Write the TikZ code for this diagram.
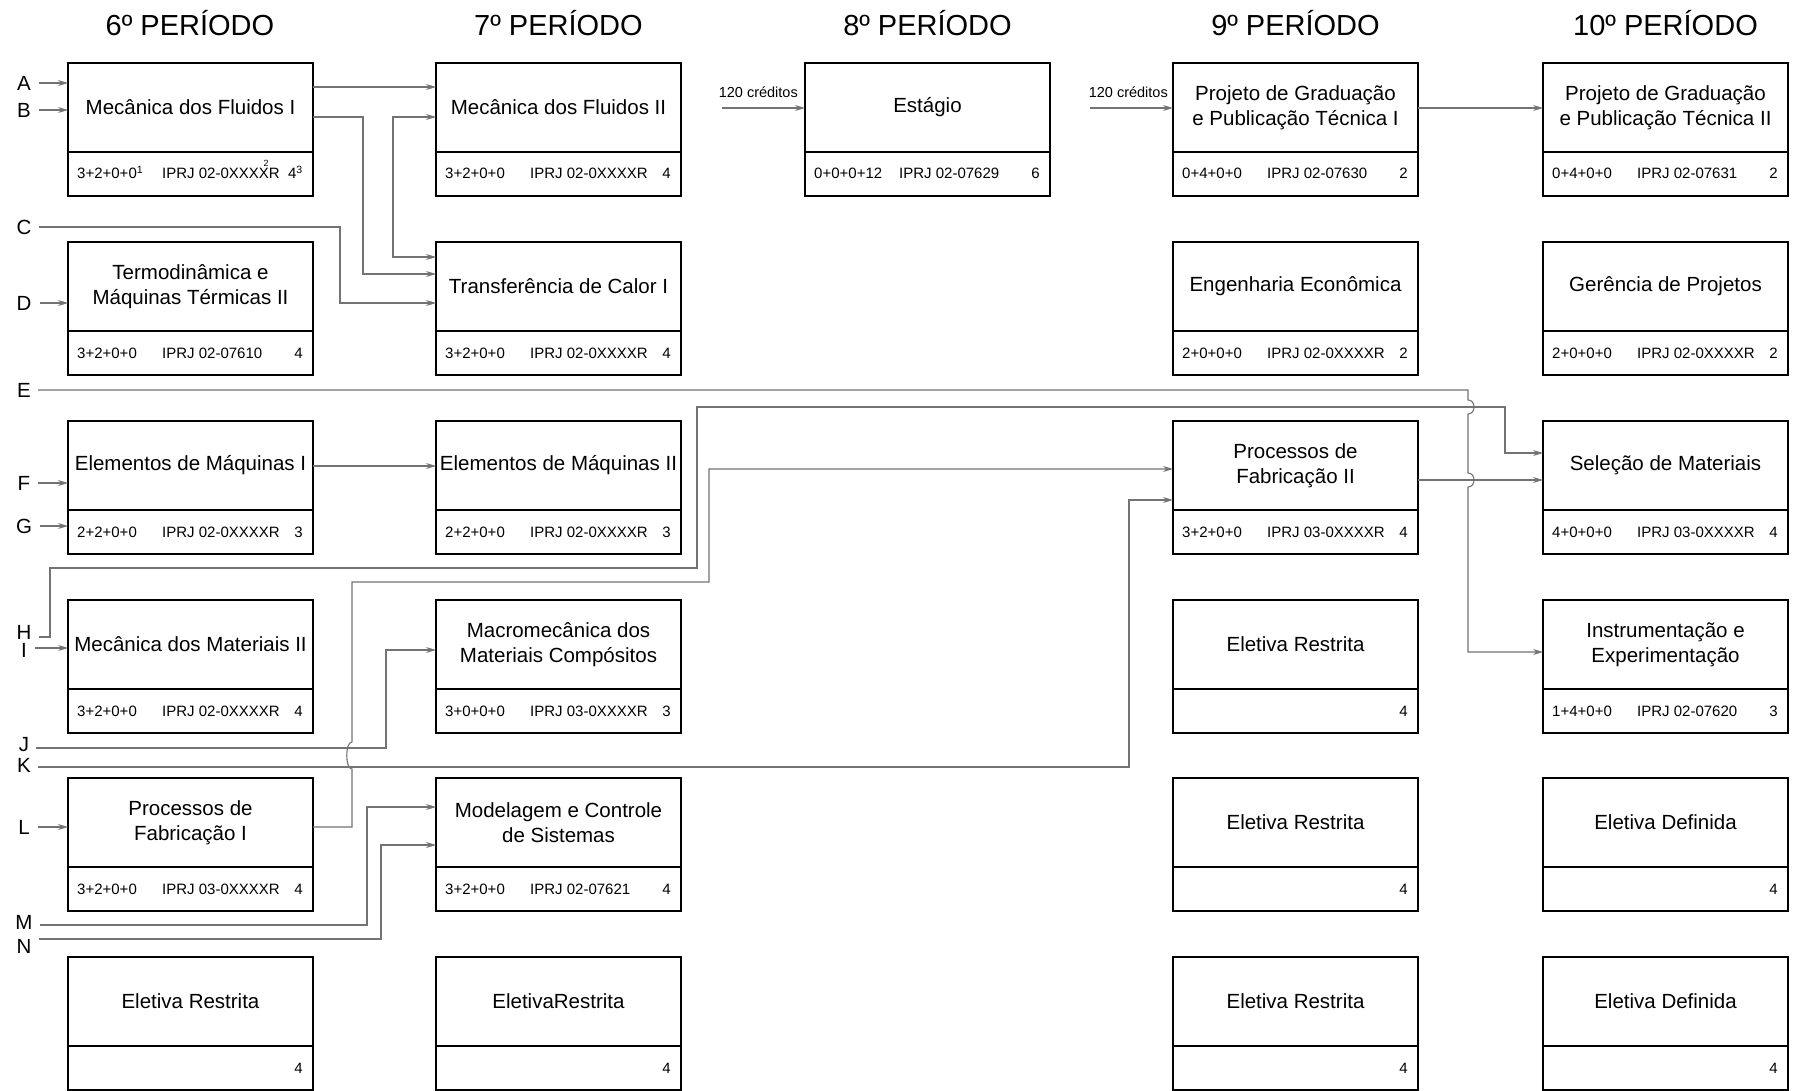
\documentclass[tikz,border=0pt]{standalone}
\usepackage{fontspec}
\setmainfont{Liberation Sans}
\usetikzlibrary{arrows.meta}

\tikzset{
  cbox/.style={draw=black, line width=2.6pt, minimum width=245pt, minimum height=133pt,
               inner sep=0pt, outer sep=0pt, anchor=north west},
  divider/.style={line width=2.6pt},
  ctitle/.style={align=center, inner sep=0pt, font=\fontsize{20.5}{25}\selectfont},
  cinfo/.style={inner sep=0pt, font=\fontsize{15}{18}\selectfont},
  period/.style={inner sep=0pt, anchor=base, font=\fontsize{29}{34}\selectfont},
  letter/.style={inner sep=0pt, font=\fontsize{20.5}{24}\selectfont},
  creditnote/.style={inner sep=0pt, anchor=base east, font=\fontsize{14.5}{17}\selectfont},
  wire/.style={draw=black!55, line width=1.1pt},
  conn/.style={wire, -{Stealth[length=10pt,width=6pt]}},
  coreq/.style={wire, {Stealth[length=10pt,width=6pt]}-{Stealth[length=10pt,width=6pt]}},
}

% course box: name, left x, top y, title, hours, code, credits
\newcommand\coursebox[7]{%
  \node[cbox] (#1) at (#2,#3) {};
  \draw[divider] ([yshift=-89pt]#1.north west) -- ([yshift=-89pt]#1.north east);
  \node[ctitle] (#1-title) at (#2+122.5,#3+44.5) {#4};
  \node[cinfo, anchor=base west] (#1-hours) at (#2+9,#3+116) {#5};
  \node[cinfo, anchor=base west] (#1-code) at (#2+94,#3+116) {#6};
  \node[cinfo, anchor=base east] (#1-cr) at (#2+235,#3+116) {#7};
}
% elective box: name, left x, top y, title, credits
\newcommand\electivebox[5]{%
  \node[cbox] (#1) at (#2,#3) {};
  \draw[divider] ([yshift=-89pt]#1.north west) -- ([yshift=-89pt]#1.north east);
  \node[ctitle] (#1-title) at (#2+122.5,#3+44.5) {#4};
  \node[cinfo, anchor=base east] (#1-cr) at (#2+235,#3+116) {#5};
}

\begin{document}
\begin{tikzpicture}[x=1pt,y=-1pt]
\useasboundingbox (0,0) rectangle (1793,1091);
\fill[white] (0,0) rectangle (1793,1091);

% period headers
\node[period] (p6)  at (190,36)    {6º PERÍODO};
\node[period] (p7)  at (558.5,36)  {7º PERÍODO};
\node[period] (p8)  at (927.5,36)  {8º PERÍODO};
\node[period] (p9)  at (1295.5,36) {9º PERÍODO};
\node[period] (p10) at (1665.5,36) {10º PERÍODO};

% 6th period
\coursebox{mf1}{68}{63}{Mecânica dos Fluidos I}{3+2+0+0\textsuperscript{1}}
  {IPRJ 02-0XXXXR}{4\textsuperscript{3}}
\node[inner sep=0pt, anchor=base, font=\fontsize{9}{9}\selectfont] (mf1-note) at (266,167) {2};
\coursebox{term}{68}{242}{Termodinâmica e\\Máquinas Térmicas II}{3+2+0+0}{IPRJ 02-07610}{4}
\coursebox{el1}{68}{421}{Elementos de Máquinas I}{2+2+0+0}{IPRJ 02-0XXXXR}{3}
\coursebox{mm2}{68}{600}{Mecânica dos Materiais II}{3+2+0+0}{IPRJ 02-0XXXXR}{4}
\coursebox{pf1}{68}{778}{Processos de\\Fabricação I}{3+2+0+0}{IPRJ 03-0XXXXR}{4}
\electivebox{er6}{68}{957}{Eletiva Restrita}{4}

% 7th period
\coursebox{mf2}{436}{63}{Mecânica dos Fluidos II}{3+2+0+0}{IPRJ 02-0XXXXR}{4}
\coursebox{tc1}{436}{242}{Transferência de Calor I}{3+2+0+0}{IPRJ 02-0XXXXR}{4}
\coursebox{el2}{436}{421}{Elementos de Máquinas II}{2+2+0+0}{IPRJ 02-0XXXXR}{3}
\coursebox{macro}{436}{600}{Macromecânica dos\\Materiais Compósitos}{3+0+0+0}{IPRJ 03-0XXXXR}{3}
\coursebox{mod}{436}{778}{Modelagem e Controle\\de Sistemas}{3+2+0+0}{IPRJ 02-07621}{4}
\electivebox{er7}{436}{957}{EletivaRestrita}{4}

% 8th period
\coursebox{est}{805}{63}{Estágio}{0+0+0+12}{IPRJ 02-07629}{6}

% 9th period
\coursebox{pg1}{1173}{63}{Projeto de Graduação\\e Publicação Técnica I}{0+4+0+0}{IPRJ 02-07630}{2}
\coursebox{eco}{1173}{242}{Engenharia Econômica}{2+0+0+0}{IPRJ 02-0XXXXR}{2}
\coursebox{pf2}{1173}{421}{Processos de\\Fabricação II}{3+2+0+0}{IPRJ 03-0XXXXR}{4}
\electivebox{er9a}{1173}{600}{Eletiva Restrita}{4}
\electivebox{er9b}{1173}{778}{Eletiva Restrita}{4}
\electivebox{er9c}{1173}{957}{Eletiva Restrita}{4}

% 10th period
\coursebox{pg2}{1543}{63}{Projeto de Graduação\\e Publicação Técnica II}{0+4+0+0}{IPRJ 02-07631}{2}
\coursebox{ger}{1543}{242}{Gerência de Projetos}{2+0+0+0}{IPRJ 02-0XXXXR}{2}
\coursebox{sel}{1543}{421}{Seleção de Materiais}{4+0+0+0}{IPRJ 03-0XXXXR}{4}
\coursebox{inst}{1543}{600}{Instrumentação e\\Experimentação}{1+4+0+0}{IPRJ 02-07620}{3}
\electivebox{ed10a}{1543}{778}{Eletiva Definida}{4}
\electivebox{ed10b}{1543}{957}{Eletiva Definida}{4}

% incoming prerequisite letters
\node[letter] (A) at (24,83)  {A};
\node[letter] (B) at (24,110) {B};
\node[letter] (C) at (24,227) {C};
\node[letter] (D) at (24,303) {D};
\node[letter] (E) at (24,390) {E};
\node[letter] (F) at (24,483) {F};
\node[letter] (G) at (24,526) {G};
\node[letter] (H) at (24,632) {H};
\node[letter] (I) at (24,650) {I};
\node[letter] (J) at (24,745) {J};
\node[letter] (K) at (24,765) {K};
\node[letter] (L) at (24,827) {L};
\node[letter] (M) at (24,922) {M};
\node[letter] (N) at (24,946) {N};

% short entries into the 6th-period column
\draw[conn] ([xshift=8pt]A.east) -- (A.east -| mf1.west);
\draw[conn] ([xshift=8pt]B.east) -- (B.east -| mf1.west);
\draw[conn] ([xshift=8pt]D.east) -- (D.east -| term.west);
\draw[conn] ([xshift=8pt]F.east) -- (F.east -| el1.west);
\draw[conn] ([xshift=8pt]G.east) -- (G.east -| el1.west);
\draw[conn] ([xshift=8pt,yshift=2pt]I.east) -- ([yshift=-48pt]mm2.north west);
\draw[conn] ([xshift=8pt]L.east) -- (L.east -| pf1.west);

% 6th -> 7th period
\draw[conn] ([yshift=-24pt]mf1.north east) -- ([yshift=-24pt]mf2.north west);
\draw[conn] ([yshift=-54pt]mf1.north east) -| (363,274) -- ([yshift=-32pt]tc1.north west);
\draw[coreq] ([yshift=-54pt]mf2.north west) -| (393,257) -- ([yshift=-15pt]tc1.north west);
\draw[conn] ([xshift=7pt]C.east) -| (340,303) -- ([yshift=-61pt]tc1.north west);
\draw[conn] ([yshift=-45pt]el1.north east) -- ([yshift=-45pt]el2.north west);
\draw[conn] ([xshift=7pt,yshift=-3pt]J.east) -| (386,650) -- ([yshift=-50pt]macro.north west);
\draw[conn] ([xshift=7pt,yshift=-3pt]M.east) -| (367,807) -- ([yshift=-29pt]mod.north west);
\draw[conn] ([xshift=7pt,yshift=7pt]N.east) -| (381,845) -- ([yshift=-67pt]mod.north west);

% credit requirements
\node[creditnote] (cr8) at (798,98)  {120 créditos};
\node[creditnote] (cr9) at (1168,98) {120 créditos};
\coordinate (in8) at (722,108);
\coordinate (in9) at (1090,108);
\draw[conn] (in8) -- ([yshift=-45pt]est.north west);
\draw[conn] (in9) -- ([yshift=-45pt]pg1.north west);

% 9th -> 10th period
\draw[conn] ([yshift=-45pt]pg1.north east) -- ([yshift=-45pt]pg2.north west);
\draw[conn] ([yshift=-59pt]pf2.north east) -- ([yshift=-59pt]sel.north west);

% long routes to the 9th and 10th periods
\draw[conn] ([xshift=7pt]E.east) -- (1468,390) -- (1468,400)
  .. controls (1476,400) and (1476,414) .. (1468,414) -- (1468,473)
  .. controls (1476,473) and (1476,487) .. (1468,487)
  |- ([yshift=-52pt]inst.north west);
\draw[conn] ([xshift=7pt,yshift=-5pt]H.east) -| (50,568) -| (697,407) -| (1505,453)
  -- ([yshift=-32pt]sel.north west);
\draw[conn] ([yshift=-49pt]pf1.north east) -- (352,827) -- (352,769)
  .. controls (345,769) and (345,742) .. (352,742) -- (352,582) -| (709,469)
  -- ([yshift=-48pt]pf2.north west);
\draw[conn] ([xshift=7pt,yshift=-2pt]K.east) -| (1129,500) -- ([yshift=-79pt]pf2.north west);
\end{tikzpicture}
\end{document}
